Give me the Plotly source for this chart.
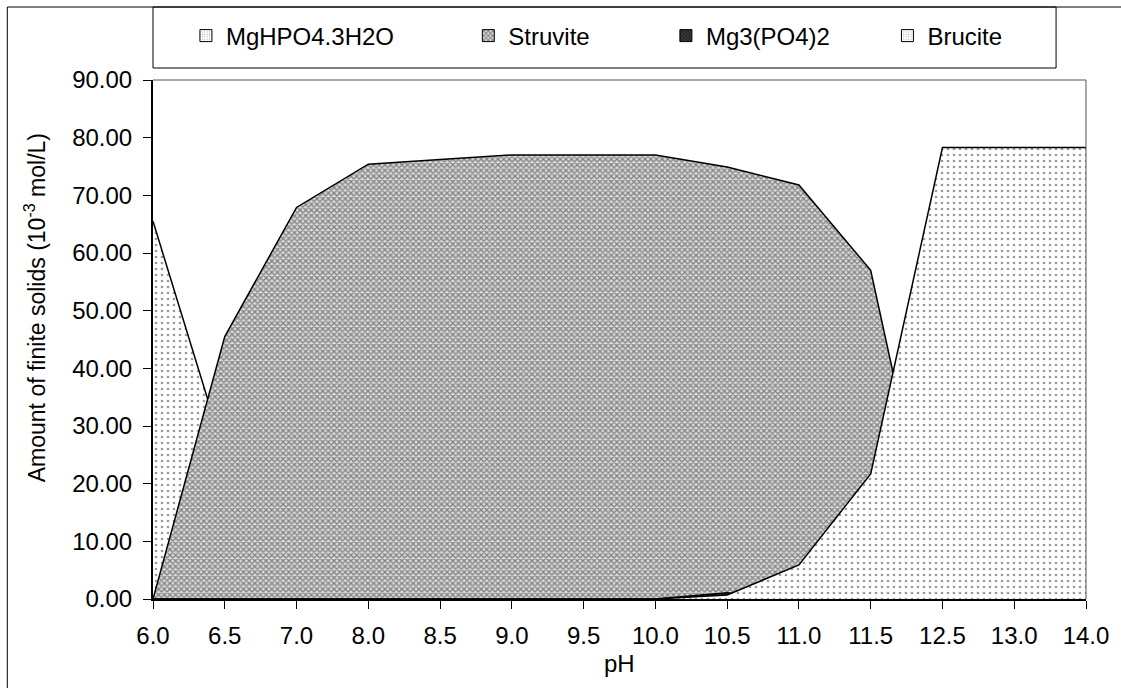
import plotly.graph_objects as go

ph = ["6.0", "6.5", "7.0", "8.0", "8.5", "9.0", "9.5", "10.0", "10.5", "11.0", "11.5", "12.5", "13.0", "14.0"]
mghpo4 = [65.5, 25.0, 0, 0, 0, 0, 0, 0, 0, 0, 0, 0, 0, 0]
struvite = [0, 45.5, 67.9, 75.4, 76.2, 77.0, 77.0, 77.0, 74.9, 71.8, 57.0, 0, 0, 0]
mg3po42 = [0, 0, 0, 0, 0, 0, 0, 0, 1.1, 0, 0, 0, 0, 0]
brucite = [0, 0, 0, 0, 0, 0, 0, 0, 0.7, 5.9, 21.7, 78.3, 78.3, 78.3]
yticks = [0, 10, 20, 30, 40, 50, 60, 70, 80, 90]

FONT = "Liberation Sans, Arial, sans-serif"
FS = 24

L, R, T, B = 153, 1088, 80, 599
W, H = 1121, 688
pw, ph_ = R - L, B - T


def px_x(x):
    return (x - L) / pw


def px_y(y):
    return (B - y) / ph_


dots = dict(shape=".", size=6, solidity=0.16, fgcolor="#333333", bgcolor="white")
cross = dict(shape="x", size=4, solidity=0.55, fgcolor="#2a2a2a", bgcolor="#dadada")
dark = dict(shape="x", size=3, solidity=0.6, fgcolor="black", bgcolor="#444444")

series = [
    ("MgHPO4.3H2O", mghpo4, dots, "legend"),
    ("Struvite", struvite, cross, "legend2"),
    ("Mg3(PO4)2", mg3po42, dark, "legend3"),
    ("Brucite", brucite, dots, "legend4"),
]

fig = go.Figure()
for name, vals, pat, lg in series:
    fig.add_trace(go.Scatter(
        x=ph, y=vals, name=name, mode="lines", fill="tozeroy",
        line=dict(color="black", width=1.5),
        fillcolor="white", fillpattern=pat, showlegend=False,
        hoverinfo="x+y+name",
    ))

# legend-only entries (square patterned swatches like the reference)
for name, vals, pat, lg in series:
    lp = dict(pat)
    lp["size"] = 3 if pat["shape"] == "." else pat["size"]
    fig.add_trace(go.Bar(
        x=[None], y=[None], name=name, legend=lg, showlegend=True,
        marker=dict(color="white", line=dict(color="black", width=1), pattern=lp),
        hoverinfo="skip",
    ))

text_starts = [226, 509, 707, 929]
leg_y = px_y(36)
legends = {}
for i, ts in enumerate(text_starts):
    key = "legend" if i == 0 else f"legend{i+1}"
    legends[key] = dict(
        x=px_x(ts - 40), y=leg_y, xanchor="left", yanchor="middle",
        orientation="h", bgcolor="rgba(0,0,0,0)", borderwidth=0,
        font=dict(family=FONT, size=FS, color="black"),
        itemwidth=30,
    )

fig.update_layout(
    width=W, height=H,
    margin=dict(l=L, r=W - R, t=T, b=H - B, pad=0),
    paper_bgcolor="white", plot_bgcolor="white",
    font=dict(family=FONT, size=FS, color="black"),
    showlegend=True,
    **legends,
    xaxis=dict(
        type="category", categoryorder="array", categoryarray=ph,
        range=[0, len(ph) - 1], showgrid=False, zeroline=False,
        showline=True, linecolor="black", linewidth=2, layer="above traces",
        ticks="outside", ticklen=8, tickwidth=1, tickcolor="black",
        tickfont=dict(family=FONT, size=FS, color="black"),
        ticklabelstandoff=6,
    ),
    yaxis=dict(
        range=[0, 90], tickvals=yticks, tickformat=".2f",
        showgrid=False, zeroline=False,
        showline=True, linecolor="black", linewidth=2, layer="above traces",
        ticks="outside", ticklen=8, tickwidth=1, tickcolor="black",
        tickfont=dict(family=FONT, size=FS, color="black"),
        ticklabelstandoff=6,
    ),
    shapes=[
        dict(type="line", xref="paper", yref="paper", x0=0, x1=1, y0=1, y1=1,
             line=dict(color="#555555", width=1), layer="above"),
        dict(type="line", xref="paper", yref="paper", x0=1, x1=1, y0=0, y1=1,
             line=dict(color="#555555", width=1), layer="above"),
        dict(type="rect", xref="paper", yref="paper",
             x0=px_x(153), x1=px_x(1058), y0=px_y(68), y1=px_y(7),
             line=dict(color="black", width=1), layer="above"),
        dict(type="rect", xref="paper", yref="paper",
             x0=px_x(7), x1=px_x(1130), y0=px_y(700), y1=px_y(7),
             line=dict(color="black", width=1), layer="above"),
    ],
    annotations=[
        dict(text="Amount of finite solids (10<sup>-3</sup> mol/L)", textangle=-90,
             xref="paper", yref="paper", x=px_x(35), y=px_y(308),
             xanchor="center", yanchor="middle", showarrow=False,
             font=dict(family=FONT, size=23, color="black")),
        dict(text="pH", xref="paper", yref="paper", x=0.5, y=px_y(663),
             xanchor="center", yanchor="middle", showarrow=False,
             font=dict(family=FONT, size=FS, color="black")),
    ],
)

fig.write_html("out.html", config={"displayModeBar": False},
               post_script="document.body.style.margin='0';document.body.style.overflow='hidden';")
